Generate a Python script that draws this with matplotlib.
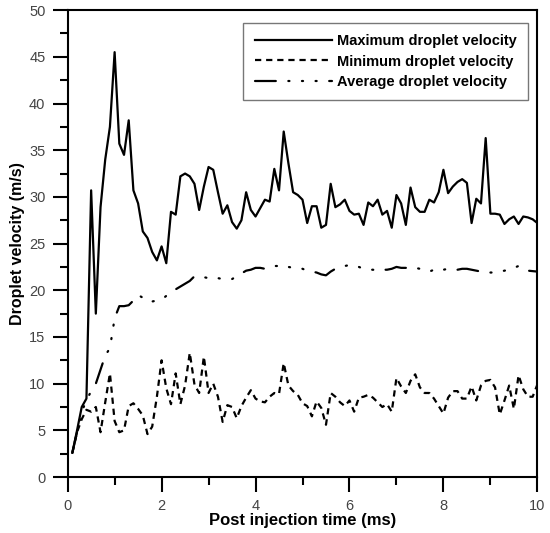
import matplotlib
matplotlib.use("Agg")
import matplotlib.pyplot as plt
import numpy as np

plt.rcParams['font.family'] = ['Liberation Sans', 'DejaVu Sans']
plt.rcParams['lines.scale_dashes'] = False

time_ms = np.round(np.arange(1, 101) * 0.1, 1)

max_vel = [2.6, 5.0, 7.5, 8.4, 30.7, 17.5, 28.9, 34.0, 37.5, 45.5,
           35.7, 34.5, 38.2, 30.7, 29.3, 26.3, 25.6, 24.1, 23.2, 24.7,
           22.9, 28.4, 28.1, 32.2, 32.5, 32.2, 31.4, 28.6, 31.1, 33.2,
           32.9, 30.5, 28.2, 29.1, 27.3, 26.6, 27.5, 30.5, 28.6, 27.9,
           28.8, 29.7, 29.5, 33.0, 30.7, 37.0, 33.6, 30.5, 30.2, 29.7,
           27.2, 29.0, 29.0, 26.7, 27.0, 31.4, 28.9, 29.2, 29.7, 28.5,
           28.1, 28.2, 27.0, 29.4, 29.0, 29.7, 28.1, 28.5, 26.7, 30.2,
           29.3, 27.0, 31.0, 28.9, 28.4, 28.4, 29.7, 29.4, 30.5, 32.9,
           30.4, 31.1, 31.6, 31.9, 31.5, 27.2, 29.8, 29.3, 36.3, 28.2,
           28.2, 28.1, 27.1, 27.6, 27.9, 27.1, 27.9, 27.8, 27.6, 27.2]

min_vel = [2.6, 4.8, 6.2, 7.2, 7.0, 7.5, 4.8, 8.0, 11.1, 6.0,
           4.8, 5.0, 7.6, 7.9, 7.3, 6.6, 4.6, 5.4, 8.6, 12.5,
           9.5, 7.8, 11.1, 7.8, 9.8, 13.3, 9.9, 9.0, 12.9, 9.0,
           10.0, 8.6, 5.9, 7.7, 7.5, 6.3, 7.6, 8.5, 9.3, 8.4,
           8.1, 8.0, 8.6, 9.0, 8.9, 12.2, 9.8, 9.2, 8.8, 7.9,
           7.6, 6.5, 8.1, 7.4, 5.6, 9.0, 8.6, 8.0, 7.6, 8.2,
           7.0, 8.5, 8.6, 8.8, 8.5, 8.0, 7.5, 7.8, 7.0, 10.6,
           9.7, 9.0, 10.3, 11.0, 9.6, 9.0, 9.0, 8.4, 7.6, 6.8,
           8.5, 9.2, 9.2, 8.4, 8.4, 9.7, 8.2, 9.8, 10.3, 10.4,
           9.6, 6.7, 8.2, 9.8, 7.3, 10.9, 9.4, 8.6, 8.6, 9.9]

avg_vel = [2.6, 4.8, 7.0, 8.2, 9.2, 10.0, 11.5, 13.0, 13.8, 17.0,
           18.3, 18.3, 18.4, 18.9, 19.5, 19.2, 18.8, 18.8, 18.9, 19.0,
           19.4, 19.8, 20.1, 20.4, 20.7, 21.0, 21.5, 21.5, 21.4, 21.3,
           21.2, 21.3, 21.2, 21.2, 21.2, 21.5, 21.8, 22.1, 22.2, 22.4,
           22.4, 22.3, 22.5, 22.6, 22.6, 22.4, 22.5, 22.4, 22.3, 22.3,
           22.1, 22.0, 21.9, 21.7, 21.6, 22.0, 22.3, 22.4, 22.6, 22.7,
           22.5, 22.5, 22.3, 22.2, 22.2, 22.1, 22.2, 22.2, 22.3, 22.5,
           22.4, 22.4, 22.5, 22.4, 22.3, 22.2, 22.0, 22.2, 22.35, 22.2,
           22.3, 22.2, 22.2, 22.3, 22.3, 22.2, 22.1, 22.0, 21.9, 21.9,
           21.9, 22.0, 22.1, 22.2, 22.4, 22.6, 22.3, 22.1, 22.05, 22.0]

fig = plt.figure(figsize=(5.5, 5.33), dpi=100)
ax = fig.add_axes([0.123, 0.105, 0.854, 0.876])

ax.plot(time_ms, max_vel, color='black', lw=1.6, label='Maximum droplet velocity')
ax.plot(time_ms, min_vel, color='black', lw=1.6, linestyle=(0, (4.5, 3.5)),
        label='Minimum droplet velocity')
ax.plot(time_ms, avg_vel, color='black', lw=1.6, solid_capstyle='round',
        dash_capstyle='round',
        linestyle=(0, (15, 9, 0.8, 9, 0.8, 9, 0.8, 9)),
        label='Average droplet velocity')

ax.set_xlim(0, 10)
ax.set_ylim(0, 50)
ax.set_xticks(np.arange(0, 11, 2))
ax.set_xticks(np.arange(1, 10, 2), minor=True)
ax.set_yticks(np.arange(0, 51, 5))
ax.set_yticks(np.arange(2.5, 50, 5), minor=True)
ax.tick_params(which='major', direction='out', length=11, width=1.5,
               labelsize=10.5, labelcolor='#444444', pad=5)
ax.tick_params(which='minor', direction='out', length=6, width=1.5)
for s in ax.spines.values():
    s.set_linewidth(1.5)

ax.set_xlabel('Post injection time (ms)', fontsize=12, fontweight='bold', labelpad=0)
ax.set_ylabel('Droplet velocity (m/s)', fontsize=11.5, fontweight='bold', labelpad=3)

leg = ax.legend(loc='upper right', bbox_to_anchor=(0.98, 0.973), fancybox=False,
                edgecolor='#777777', framealpha=1, handlelength=5.3,
                prop={'weight': 'bold', 'size': 10.5}, labelspacing=0.42,
                borderpad=0.8, handletextpad=0.3, borderaxespad=0)
leg.get_frame().set_linewidth(1.0)

fig.savefig('out.png', dpi=100)
